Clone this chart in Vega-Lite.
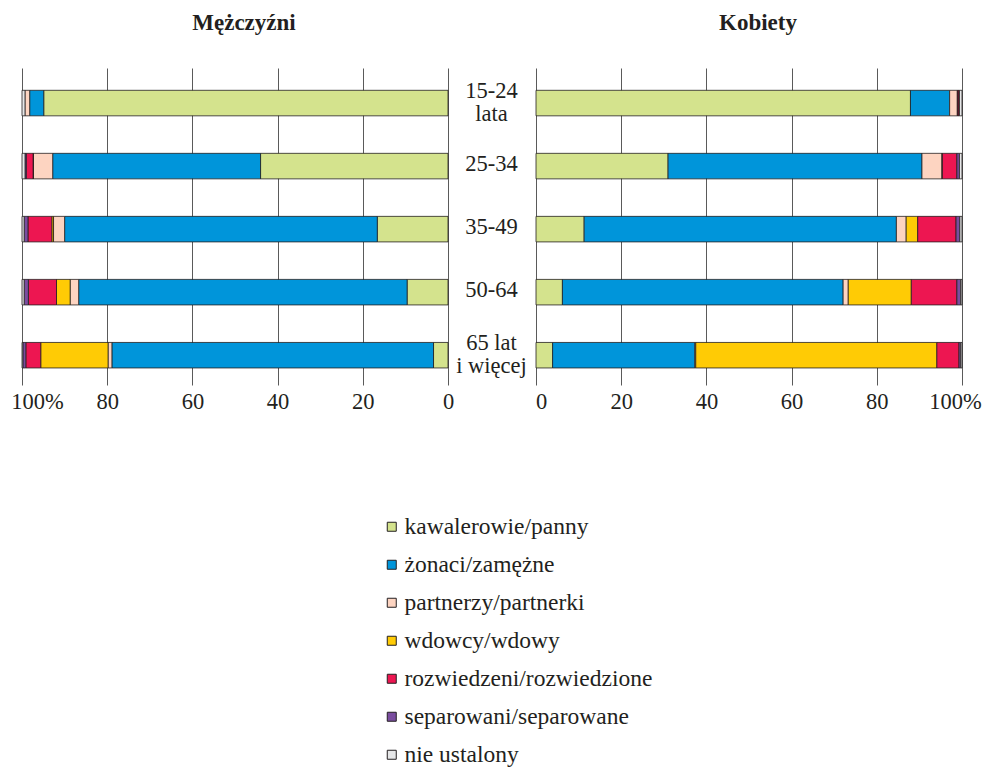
{
  "$schema": "https://vega.github.io/schema/vega-lite/v6.json",
  "padding": {"left": 10, "top": 12, "right": 5, "bottom": 5},
  "background": "white",
  "config": {
    "view": {"stroke": null},
    "font": "Liberation Serif",
    "axis": {"labelFont": "Liberation Serif", "labelColor": "#231f20"},
    "legend": {"labelFont": "Liberation Serif"}
  },
  "data": {"values": [
    {"plec": "M", "wiek": "15-24\nlata", "stan": "kawalerowie/panny", "proc": 94.9},
    {"plec": "M", "wiek": "15-24\nlata", "stan": "żonaci/zamężne", "proc": 3.3},
    {"plec": "M", "wiek": "15-24\nlata", "stan": "partnerzy/partnerki", "proc": 1.1},
    {"plec": "M", "wiek": "15-24\nlata", "stan": "nie ustalony", "proc": 0.7},
    {"plec": "M", "wiek": "25-34", "stan": "kawalerowie/panny", "proc": 44.0},
    {"plec": "M", "wiek": "25-34", "stan": "żonaci/zamężne", "proc": 48.8},
    {"plec": "M", "wiek": "25-34", "stan": "partnerzy/partnerki", "proc": 4.5},
    {"plec": "M", "wiek": "25-34", "stan": "wdowcy/wdowy", "proc": 0.1},
    {"plec": "M", "wiek": "25-34", "stan": "rozwiedzeni/rozwiedzione", "proc": 1.6},
    {"plec": "M", "wiek": "25-34", "stan": "separowani/separowane", "proc": 0.3},
    {"plec": "M", "wiek": "25-34", "stan": "nie ustalony", "proc": 0.7},
    {"plec": "M", "wiek": "35-49", "stan": "kawalerowie/panny", "proc": 16.6},
    {"plec": "M", "wiek": "35-49", "stan": "żonaci/zamężne", "proc": 73.4},
    {"plec": "M", "wiek": "35-49", "stan": "partnerzy/partnerki", "proc": 2.6},
    {"plec": "M", "wiek": "35-49", "stan": "wdowcy/wdowy", "proc": 0.4},
    {"plec": "M", "wiek": "35-49", "stan": "rozwiedzeni/rozwiedzione", "proc": 5.6},
    {"plec": "M", "wiek": "35-49", "stan": "separowani/separowane", "proc": 0.9},
    {"plec": "M", "wiek": "35-49", "stan": "nie ustalony", "proc": 0.5},
    {"plec": "M", "wiek": "50-64", "stan": "kawalerowie/panny", "proc": 9.6},
    {"plec": "M", "wiek": "50-64", "stan": "żonaci/zamężne", "proc": 77.1},
    {"plec": "M", "wiek": "50-64", "stan": "partnerzy/partnerki", "proc": 2.0},
    {"plec": "M", "wiek": "50-64", "stan": "wdowcy/wdowy", "proc": 3.2},
    {"plec": "M", "wiek": "50-64", "stan": "rozwiedzeni/rozwiedzione", "proc": 6.6},
    {"plec": "M", "wiek": "50-64", "stan": "separowani/separowane", "proc": 1.0},
    {"plec": "M", "wiek": "50-64", "stan": "nie ustalony", "proc": 0.5},
    {"plec": "M", "wiek": "65 lat\ni więcej", "stan": "kawalerowie/panny", "proc": 3.4},
    {"plec": "M", "wiek": "65 lat\ni więcej", "stan": "żonaci/zamężne", "proc": 75.5},
    {"plec": "M", "wiek": "65 lat\ni więcej", "stan": "partnerzy/partnerki", "proc": 0.9},
    {"plec": "M", "wiek": "65 lat\ni więcej", "stan": "wdowcy/wdowy", "proc": 15.8},
    {"plec": "M", "wiek": "65 lat\ni więcej", "stan": "rozwiedzeni/rozwiedzione", "proc": 3.5},
    {"plec": "M", "wiek": "65 lat\ni więcej", "stan": "separowani/separowane", "proc": 0.7},
    {"plec": "M", "wiek": "65 lat\ni więcej", "stan": "nie ustalony", "proc": 0.2},
    {"plec": "K", "wiek": "15-24\nlata", "stan": "kawalerowie/panny", "proc": 87.9},
    {"plec": "K", "wiek": "15-24\nlata", "stan": "żonaci/zamężne", "proc": 9.2},
    {"plec": "K", "wiek": "15-24\nlata", "stan": "partnerzy/partnerki", "proc": 1.8},
    {"plec": "K", "wiek": "15-24\nlata", "stan": "wdowcy/wdowy", "proc": 0.1},
    {"plec": "K", "wiek": "15-24\nlata", "stan": "rozwiedzeni/rozwiedzione", "proc": 0.3},
    {"plec": "K", "wiek": "15-24\nlata", "stan": "separowani/separowane", "proc": 0.1},
    {"plec": "K", "wiek": "15-24\nlata", "stan": "nie ustalony", "proc": 0.6},
    {"plec": "K", "wiek": "25-34", "stan": "kawalerowie/panny", "proc": 31.0},
    {"plec": "K", "wiek": "25-34", "stan": "żonaci/zamężne", "proc": 59.6},
    {"plec": "K", "wiek": "25-34", "stan": "partnerzy/partnerki", "proc": 4.7},
    {"plec": "K", "wiek": "25-34", "stan": "wdowcy/wdowy", "proc": 0.1},
    {"plec": "K", "wiek": "25-34", "stan": "rozwiedzeni/rozwiedzione", "proc": 3.4},
    {"plec": "K", "wiek": "25-34", "stan": "separowani/separowane", "proc": 0.6},
    {"plec": "K", "wiek": "25-34", "stan": "nie ustalony", "proc": 0.6},
    {"plec": "K", "wiek": "35-49", "stan": "kawalerowie/panny", "proc": 11.3},
    {"plec": "K", "wiek": "35-49", "stan": "żonaci/zamężne", "proc": 73.3},
    {"plec": "K", "wiek": "35-49", "stan": "partnerzy/partnerki", "proc": 2.3},
    {"plec": "K", "wiek": "35-49", "stan": "wdowcy/wdowy", "proc": 2.7},
    {"plec": "K", "wiek": "35-49", "stan": "rozwiedzeni/rozwiedzione", "proc": 9.0},
    {"plec": "K", "wiek": "35-49", "stan": "separowani/separowane", "proc": 0.9},
    {"plec": "K", "wiek": "35-49", "stan": "nie ustalony", "proc": 0.5},
    {"plec": "K", "wiek": "50-64", "stan": "kawalerowie/panny", "proc": 6.2},
    {"plec": "K", "wiek": "50-64", "stan": "żonaci/zamężne", "proc": 65.9},
    {"plec": "K", "wiek": "50-64", "stan": "partnerzy/partnerki", "proc": 1.2},
    {"plec": "K", "wiek": "50-64", "stan": "wdowcy/wdowy", "proc": 14.8},
    {"plec": "K", "wiek": "50-64", "stan": "rozwiedzeni/rozwiedzione", "proc": 10.7},
    {"plec": "K", "wiek": "50-64", "stan": "separowani/separowane", "proc": 0.9},
    {"plec": "K", "wiek": "50-64", "stan": "nie ustalony", "proc": 0.3},
    {"plec": "K", "wiek": "65 lat\ni więcej", "stan": "kawalerowie/panny", "proc": 3.9},
    {"plec": "K", "wiek": "65 lat\ni więcej", "stan": "żonaci/zamężne", "proc": 33.4},
    {"plec": "K", "wiek": "65 lat\ni więcej", "stan": "partnerzy/partnerki", "proc": 0.2},
    {"plec": "K", "wiek": "65 lat\ni więcej", "stan": "wdowcy/wdowy", "proc": 56.6},
    {"plec": "K", "wiek": "65 lat\ni więcej", "stan": "rozwiedzeni/rozwiedzione", "proc": 5.2},
    {"plec": "K", "wiek": "65 lat\ni więcej", "stan": "separowani/separowane", "proc": 0.4},
    {"plec": "K", "wiek": "65 lat\ni więcej", "stan": "nie ustalony", "proc": 0.3}
  ]},
  "transform": [
    {"calculate": "indexof(['kawalerowie/panny', 'żonaci/zamężne', 'partnerzy/partnerki', 'wdowcy/wdowy', 'rozwiedzeni/rozwiedzione', 'separowani/separowane', 'nie ustalony'], datum.stan)", "as": "kolejnosc"}
  ],
  "spacing": 88,
  "bounds": "flush",
  "hconcat": [
    {
      "width": 426,
      "height": 317,
      "title": {"text": "Mężczyźni", "font": "Liberation Serif", "fontSize": 23, "fontWeight": "bold", "color": "#231f20", "anchor": "middle", "baseline": "alphabetic", "offset": 15, "dx": 9},
      "transform": [{"filter": "datum.plec == 'M'"}],
      "mark": {"type": "bar", "stroke": "#231f20", "strokeWidth": 0.8},
      "encoding": {
        "y": {"field": "wiek", "type": "nominal", "sort": null,
              "scale": {"paddingInner": 0.595, "paddingOuter": 0.312, "align": 0.567},
              "axis": null},
        "x": {"field": "proc", "type": "quantitative", "stack": "zero",
              "scale": {"domain": [0, 100], "reverse": true, "nice": false},
              "axis": {"title": null, "values": [0, 20, 40, 60, 80, 100], "domain": false, "ticks": false,
                       "grid": true, "gridColor": "#5a5a5a", "gridWidth": 1, "gridOpacity": 1,
                       "labelFont": "Liberation Serif", "labelFontSize": 22.5, "labelPadding": 5.5, "labelBaseline": "top",
                       "labelFlush": false, "labelOverlap": false,
                       "labelOffset": {"condition": {"test": "datum.value == 100", "value": 15}, "value": 0},
                       "labelExpr": "datum.value == 100 ? '100%' : datum.label"}},
        "order": {"field": "kolejnosc", "type": "quantitative", "sort": "ascending"},
        "color": {"field": "stan", "type": "nominal",
                  "scale": {"domain": ["kawalerowie/panny", "żonaci/zamężne", "partnerzy/partnerki", "wdowcy/wdowy", "rozwiedzeni/rozwiedzione", "separowani/separowane", "nie ustalony"],
                            "range": ["#d4e38d", "#0095da", "#fdd4c1", "#ffcb05", "#ed1651", "#7a4d9f", "#e6e7e8"]},
                  "legend": {"title": null, "orient": "none", "legendX": 358, "legendY": 447,
                             "symbolType": "square", "symbolSize": 81, "symbolStrokeColor": "#231f20", "symbolStrokeWidth": 1,
                             "labelFont": "Liberation Serif", "labelFontSize": 23.5, "labelColor": "#231f20", "labelOffset": 1, "labelLimit": 400, "rowPadding": 13}}
      }
    },
    {
      "width": 426,
      "height": 317,
      "title": {"text": "Kobiety", "font": "Liberation Serif", "fontSize": 23, "fontWeight": "bold", "color": "#231f20", "anchor": "middle", "baseline": "alphabetic", "offset": 15, "dx": 9},
      "transform": [{"filter": "datum.plec == 'K'"}],
      "mark": {"type": "bar", "stroke": "#231f20", "strokeWidth": 0.8},
      "encoding": {
        "y": {"field": "wiek", "type": "nominal", "sort": null,
              "scale": {"paddingInner": 0.595, "paddingOuter": 0.312, "align": 0.567},
              "axis": {"title": null, "orient": "left", "domain": false, "ticks": false, "grid": false,
                       "labelAlign": "center", "labelBaseline": "middle", "labelPadding": 45,
                       "labelFont": "Liberation Serif", "labelFontSize": 22.5, "labelLineHeight": 23, "labelLimit": 200,
                       "labelOffset": {"condition": {"test": "indexof(datum.value, '\\n') >= 0", "value": -12.5}, "value": -2},
                       "labelExpr": "split(datum.value, '\\n')"}},
        "x": {"field": "proc", "type": "quantitative", "stack": "zero",
              "scale": {"domain": [0, 100], "nice": false},
              "axis": {"title": null, "values": [0, 20, 40, 60, 80, 100], "domain": false, "ticks": false,
                       "grid": true, "gridColor": "#5a5a5a", "gridWidth": 1, "gridOpacity": 1,
                       "labelFont": "Liberation Serif", "labelFontSize": 22.5, "labelPadding": 5.5, "labelBaseline": "top",
                       "labelFlush": false, "labelOverlap": false,
                       "labelOffset": {"condition": [{"test": "datum.value == 100", "value": -7}, {"test": "datum.value == 0", "value": 5}], "value": 0},
                       "labelExpr": "datum.value == 100 ? '100%' : datum.label"}},
        "order": {"field": "kolejnosc", "type": "quantitative", "sort": "ascending"},
        "color": {"field": "stan", "type": "nominal",
                  "scale": {"domain": ["kawalerowie/panny", "żonaci/zamężne", "partnerzy/partnerki", "wdowcy/wdowy", "rozwiedzeni/rozwiedzione", "separowani/separowane", "nie ustalony"],
                            "range": ["#d4e38d", "#0095da", "#fdd4c1", "#ffcb05", "#ed1651", "#7a4d9f", "#e6e7e8"]}}
      }
    }
  ]
}
